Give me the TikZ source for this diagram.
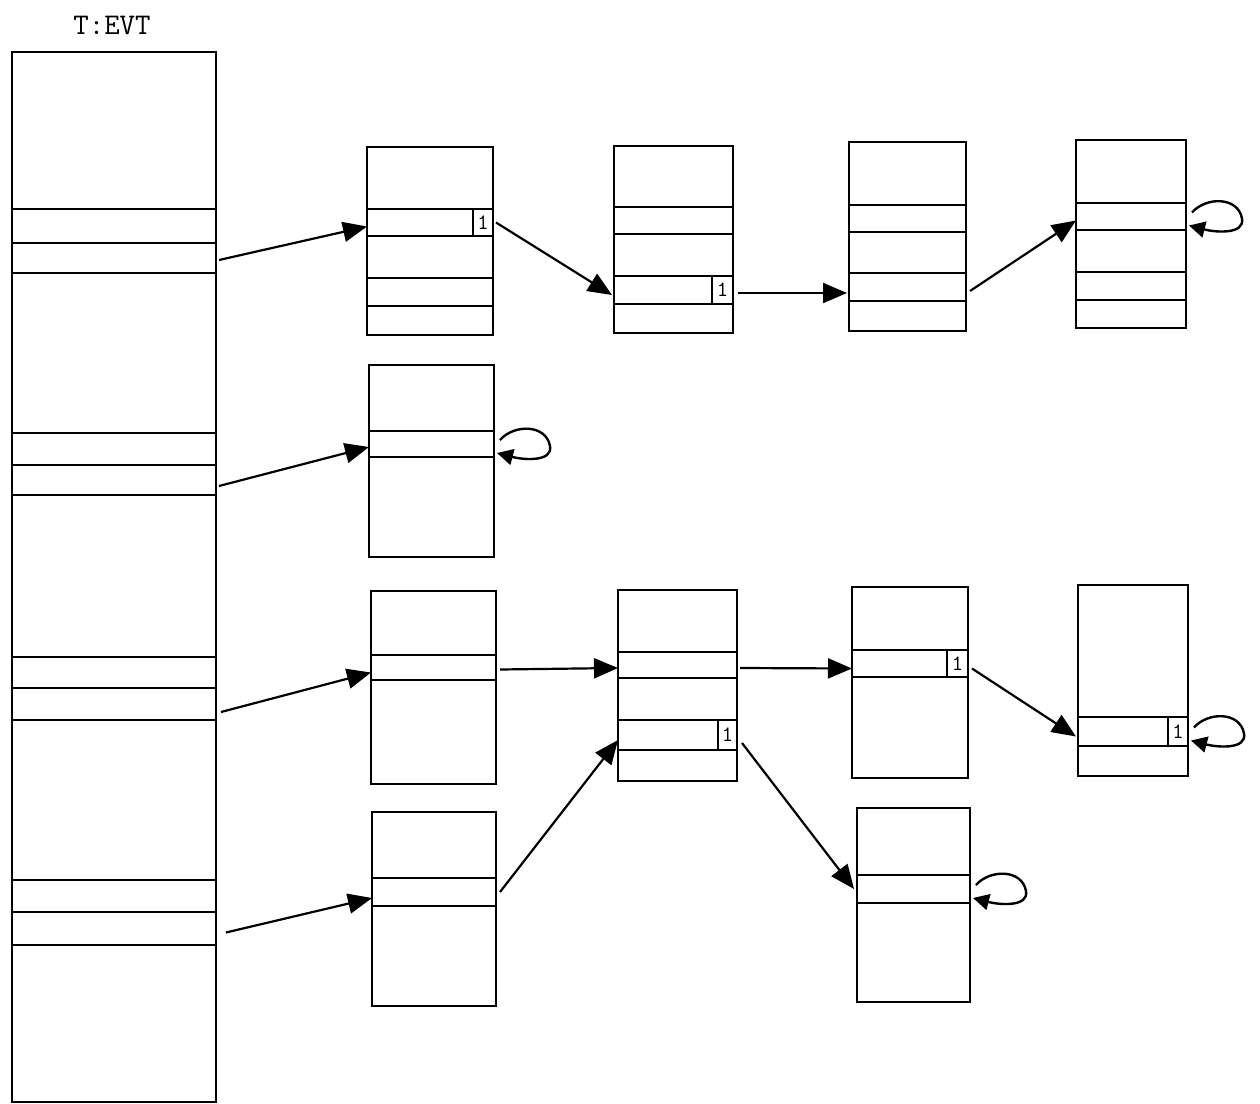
\documentclass[tikz,border=0pt]{standalone}
\usepackage{fontspec}
\usetikzlibrary{arrows.meta,calc}
\tikzset{
  cellbox/.style={draw, line width=1.2pt, inner sep=0pt, outer sep=0pt, rectangle},
  flagbox/.style={cellbox, font=\ttfamily\fontsize{11}{11}\selectfont},
  link/.style={line width=1.1pt, -{Triangle[length=12pt,width=10pt]}},
  loopar/.style={line width=1.2pt, -{Triangle[length=8pt,width=8pt]}},
}
\newcommand\cell[5]{\node[cellbox, minimum width={(#4-#2)*0.5pt}, minimum height={(#5-#3)*0.5pt}] (#1) at ({(#2+#4)/2},{(#3+#5)/2}) {};}
\newcommand\flagcell[5]{\node[flagbox, minimum width={(#4-#2)*0.5pt}, minimum height={(#5-#3)*0.5pt}] (#1) at ({(#2+#4)/2},{(#3+#5)/2}) {1};}
\newcommand\selfloop[1]{\draw[loopar] ($(#1.east)+(6,-4)$) .. controls ($(#1.east)+(20,-20)$) and ($(#1.east)+(52,-20)$) .. ($(#1.east)+(56,2)$) .. controls ($(#1.east)+(59,18)$) and ($(#1.east)+(30,16)$) .. ($(#1.east)+(3,9)$);}
\begin{document}
\begin{tikzpicture}[x=0.5pt,y=-0.5pt]
\useasboundingbox (0,0) rectangle (1260,1104);
\node[font=\ttfamily\fontsize{15}{15}\selectfont] (title) at (112,25) {T:EVT};
% EVT column
\cell{e0}{12}{52}{216}{209}
\cell{e1a}{12}{209}{216}{243}
\cell{e1b}{12}{243}{216}{273}
\cell{e1c}{12}{273}{216}{433}
\cell{e2a}{12}{433}{216}{465}
\cell{e2b}{12}{465}{216}{495}
\cell{e2c}{12}{495}{216}{657}
\cell{e3a}{12}{657}{216}{688}
\cell{e3b}{12}{688}{216}{720}
\cell{e3c}{12}{720}{216}{880}
\cell{e4a}{12}{880}{216}{912}
\cell{e4b}{12}{912}{216}{945}
\cell{e4c}{12}{945}{216}{1102}
% B1
\cell{b1a}{367}{147}{493}{209}
\cell{b1b}{367}{209}{493}{236}
\cell{b1c}{367}{236}{493}{278}
\cell{b1d}{367}{278}{493}{306}
\cell{b1e}{367}{306}{493}{335}
\flagcell{f1}{473}{209}{493}{236}
% B2
\cell{b2a}{614}{146}{733}{207}
\cell{b2b}{614}{207}{733}{234}
\cell{b2c}{614}{234}{733}{276}
\cell{b2d}{614}{276}{733}{304}
\cell{b2e}{614}{304}{733}{333}
\flagcell{f2}{712}{276}{733}{304}
% B3
\cell{b3a}{849}{142}{966}{205}
\cell{b3b}{849}{205}{966}{232}
\cell{b3c}{849}{232}{966}{273}
\cell{b3d}{849}{273}{966}{301}
\cell{b3e}{849}{301}{966}{331}
% B4
\cell{b4a}{1076}{140}{1186}{203}
\cell{b4b}{1076}{203}{1186}{230}
\cell{b4c}{1076}{230}{1186}{272}
\cell{b4d}{1076}{272}{1186}{300}
\cell{b4e}{1076}{300}{1186}{328}
% B5
\cell{b5a}{369}{365}{494}{431}
\cell{b5b}{369}{431}{494}{457}
\cell{b5c}{369}{457}{494}{557}
% B6
\cell{b6a}{371}{591}{496}{655}
\cell{b6b}{371}{655}{496}{680}
\cell{b6c}{371}{680}{496}{784}
% B7
\cell{b7a}{618}{590}{737}{652}
\cell{b7b}{618}{652}{737}{678}
\cell{b7c}{618}{678}{737}{720}
\cell{b7d}{618}{720}{737}{750}
\cell{b7e}{618}{750}{737}{781}
\flagcell{f7}{718}{720}{737}{750}
% B8
\cell{b8a}{852}{587}{968}{650}
\cell{b8b}{852}{650}{968}{677}
\cell{b8c}{852}{677}{968}{778}
\flagcell{f8}{947}{650}{968}{677}
% B9
\cell{b9a}{1078}{585}{1188}{717}
\cell{b9b}{1078}{717}{1188}{746}
\cell{b9c}{1078}{746}{1188}{776}
\flagcell{f9}{1168}{717}{1188}{746}
% B10
\cell{b10a}{372}{812}{496}{878}
\cell{b10b}{372}{878}{496}{906}
\cell{b10c}{372}{906}{496}{1006}
% B11
\cell{b11a}{857}{808}{970}{875}
\cell{b11b}{857}{875}{970}{903}
\cell{b11c}{857}{903}{970}{1002}
% connectors
\draw[link] ($(e1b.east)+(3,2)$) -- ($(b1b.west)+(0,4)$);
\draw[link] ($(e2b.east)+(3,6)$) -- ($(b5b.west)+(0,3)$);
\draw[link] ($(e3b.east)+(5,8)$) -- ($(b6b.west)+(0,5)$);
\draw[link] ($(e4b.east)+(10,4)$) -- ($(b10b.west)+(0,6)$);
\draw[link] ($(f1.east)+(3,0)$) -- ($(b2d.west)+(-2,5)$);
\draw[link] ($(f2.east)+(5,3)$) -- ($(b3d.west)+(-2,6)$);
\draw[link] ($(b3d.east)+(4,4)$) -- ($(b4b.west)+(0,4)$);
\selfloop{b4b}
\selfloop{b5b}
\draw[link] ($(b6b.east)+(4,2)$) -- ($(b7b.west)+(0,3)$);
\draw[link] ($(b7b.east)+(3,3)$) -- ($(b8b.west)+(0,5)$);
\draw[link] ($(b10b.east)+(4,0)$) -- ($(b7d.west)+(0,5)$);
\draw[link] ($(f7.east)+(5,8)$) -- ($(b11b.west)+(-3,0)$);
\draw[link] ($(f8.east)+(4,5)$) -- ($(b9b.west)+(-2,5)$);
\selfloop{b9b}
\selfloop{b11b}
\end{tikzpicture}
\end{document}
